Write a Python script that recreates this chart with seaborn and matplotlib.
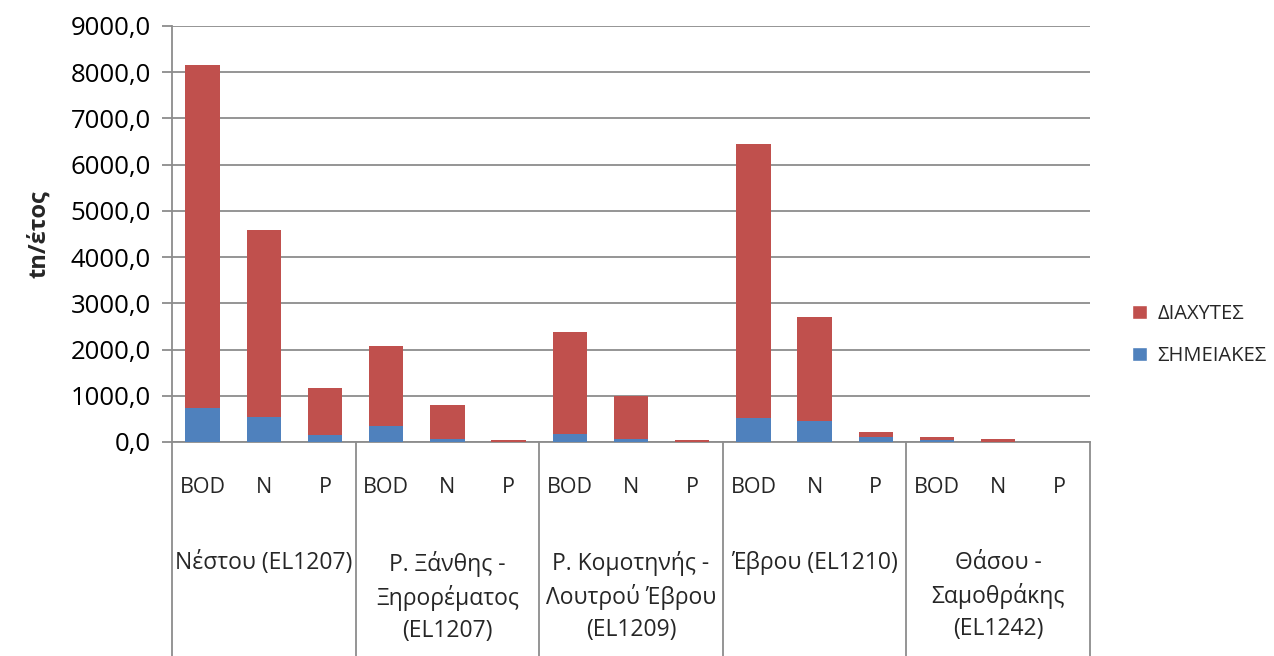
import matplotlib
matplotlib.use("Agg")
import matplotlib.pyplot as plt
import seaborn as sns
import pandas as pd
import numpy as np
from matplotlib.ticker import FuncFormatter, MultipleLocator
from matplotlib.patches import Patch

groups = ["Νέστου (EL1207)", "Ρ. Ξάνθης -\nΞηρορέματος\n(EL1207)", "Ρ. Κομοτηνής -\nΛουτρού Έβρου\n(EL1209)",
          "Έβρου (EL1210)", "Θάσου -\nΣαμοθράκης\n(EL1242)"]
params = ["BOD", "N", "P"]
# totals (ΣΗΜΕΙΑΚΕΣ + ΔΙΑΧΥΤΕΣ) and point-source part, tn/year
total = [8160, 4590, 1170, 2080, 790, 50, 2380, 995, 50, 6450, 2710, 215, 100, 65, 0]
simeiakes = [730, 535, 150, 355, 65, 10, 165, 65, 5, 515, 460, 100, 35, 5, 0]

RED = "#C0504D"
BLUE = "#4F81BD"
GRID = "#8C8C8C"

sns.set_theme(style="white")
plt.rcParams["font.family"] = ["Open Sans", "DejaVu Sans"]

labels = [f"{g}|{p}" for g in range(len(groups)) for p in params]
df = pd.DataFrame({"slot": labels, "total": total, "simeiakes": simeiakes})

fig = plt.figure(figsize=(12.74, 6.56), dpi=100)
ax = fig.add_axes([172/1274, 1-442/656, (1090-172)/1274, (442-26)/656])

sns.barplot(data=df, x="slot", y="total", order=labels, color=RED, width=0.56,
            saturation=1, ax=ax, zorder=3, edgecolor="none")
sns.barplot(data=df, x="slot", y="simeiakes", order=labels, color=BLUE, width=0.56,
            saturation=1, ax=ax, zorder=4, edgecolor="none")

ax.set_xlim(-0.5, len(labels) - 0.5)
ax.set_ylim(0, 9000)
ax.yaxis.set_major_locator(MultipleLocator(1000))
ax.yaxis.set_major_formatter(FuncFormatter(lambda v, p: f"{v:.1f}".replace(".", ",")))
ax.grid(axis="y", color=GRID, linewidth=1.3, zorder=0)
ax.set_axisbelow(True)
for s in ["top", "right"]:
    ax.spines[s].set_visible(False)
ax.spines["left"].set_color(GRID)
ax.spines["left"].set_linewidth(1.3)
ax.spines["bottom"].set_color(GRID)
ax.spines["bottom"].set_linewidth(1.3)
ax.tick_params(axis="y", which="major", left=True, length=7, width=1.3, color=GRID,
               labelsize=18.5, pad=8, labelcolor="black")
ax.set_xticks([])
ax.set_xlabel("")
ax.set_ylabel("tn/έτος", fontsize=17, fontweight="bold", labelpad=14)

# category labels
trans = ax.get_xaxis_transform()
for i, lab in enumerate(labels):
    p = lab.split("|")[1]
    ax.text(i, -0.11, p, transform=trans, ha="center", va="center", fontsize=15.5)
for g, name in enumerate(groups):
    ax.text(g * 3 + 1, -0.262, name, transform=trans, ha="center", va="top",
            fontsize=16.5, linespacing=1.42)
# group separators
ybot = -(656 - 442) / (442 - 26)
for g in range(len(groups) + 1):
    ax.plot([g * 3 - 0.5, g * 3 - 0.5], [0, ybot], transform=trans, color=GRID,
            linewidth=1.3, clip_on=False)

handles = [Patch(facecolor=RED, label="ΔΙΑΧΥΤΕΣ"), Patch(facecolor=BLUE, label="ΣΗΜΕΙΑΚΕΣ")]
fig.legend(handles=handles, loc="center left", bbox_to_anchor=(1114/1274, 1-335/656),
           frameon=False, fontsize=14.5, handlelength=0.75, handleheight=0.75,
           handletextpad=0.5, labelspacing=1.1)

fig.savefig("out.png", dpi=100)
